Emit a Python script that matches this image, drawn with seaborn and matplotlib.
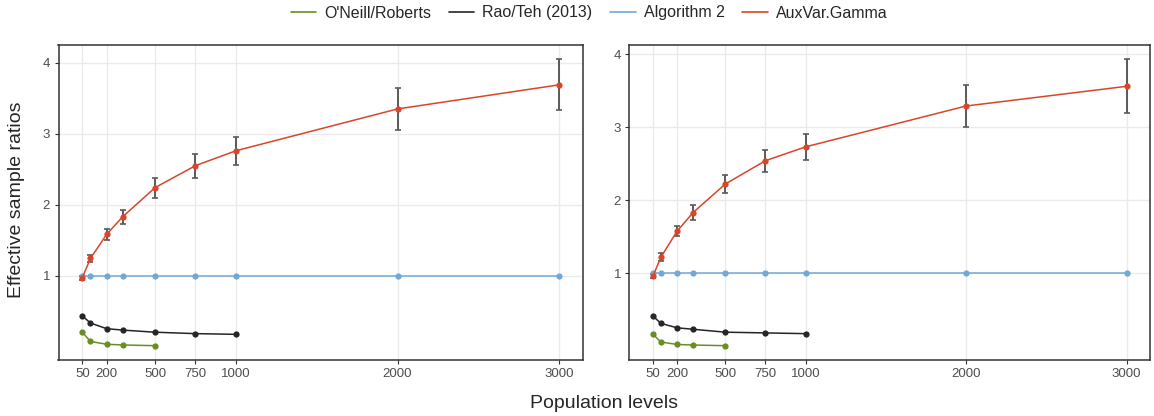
import numpy as np
import pandas as pd
import matplotlib
matplotlib.use('Agg')
import matplotlib.pyplot as plt
import seaborn as sns

# Values.
pop = [50, 100, 200, 300, 500, 750, 1000, 2000, 3000]
pop_oneill = [50, 100, 200, 300, 500]
pop_raoteh = [50, 100, 200, 300, 500, 750, 1000]
xticks = [50, 200, 500, 750, 1000, 2000, 3000]
yticks = [1, 2, 3, 4]

# left panel
oneill_l = [0.20, 0.07, 0.03, 0.02, 0.01]
raoteh_l = [0.43, 0.33, 0.25, 0.23, 0.20, 0.18, 0.17]
alg2_l = [1.0, 1.0, 1.0, 1.0, 1.0, 1.0, 1.0, 1.0, 1.0]
aux_l = [0.97, 1.24, 1.58, 1.83, 2.24, 2.55, 2.76, 3.35, 3.69]
aux_err_l = [0.03, 0.05, 0.08, 0.10, 0.14, 0.17, 0.20, 0.30, 0.36]

# right panel
oneill_r = [0.16, 0.055, 0.022, 0.014, 0.005]
raoteh_r = [0.41, 0.31, 0.25, 0.23, 0.19, 0.18, 0.17]
alg2_r = [1.0, 1.0, 1.0, 1.0, 1.0, 1.0, 1.0, 1.0, 1.0]
aux_r = [0.96, 1.22, 1.575, 1.83, 2.22, 2.54, 2.73, 3.29, 3.56]
aux_err_r = [0.03, 0.05, 0.066, 0.10, 0.12, 0.15, 0.175, 0.29, 0.37]

methods = ["O'Neill/Roberts", 'Rao/Teh (2013)', 'Algorithm 2', 'AuxVar.Gamma']
colors = {"O'Neill/Roberts": '#6b8e23', 'Rao/Teh (2013)': '#262626',
          'Algorithm 2': '#72a8d6', 'AuxVar.Gamma': '#d9452b'}


def make_df(oneill, raoteh, alg2, aux):
    parts = [pd.DataFrame({'n': pop_oneill, 'ratio': oneill, 'method': methods[0]}),
             pd.DataFrame({'n': pop_raoteh, 'ratio': raoteh, 'method': methods[1]}),
             pd.DataFrame({'n': pop, 'ratio': alg2, 'method': methods[2]}),
             pd.DataFrame({'n': pop, 'ratio': aux, 'method': methods[3]})]
    return pd.concat(parts, ignore_index=True)


sns.set_style('white')
plt.rcParams['font.family'] = ['Liberation Sans', 'DejaVu Sans']

fig = plt.figure(figsize=(11.54, 4.16), dpi=100)
W, H = 1154, 416
ax1 = fig.add_axes([58.5 / W, 1 - 360 / H, 524.5 / W, 315 / H])
ax2 = fig.add_axes([629.3 / W, 1 - 360 / H, 521 / W, 315 / H])

panels = [(ax1, oneill_l, raoteh_l, alg2_l, aux_l, aux_err_l),
          (ax2, oneill_r, raoteh_r, alg2_r, aux_r, aux_err_r)]

for ax, on, rt, a2, ax_v, ax_e in panels:
    df = make_df(on, rt, a2, ax_v)
    sns.lineplot(data=df, x='n', y='ratio', hue='method', hue_order=methods,
                 palette=colors, marker='o', markersize=4.5, markeredgewidth=0,
                 linewidth=1.1, legend=False, ax=ax, zorder=3)
    ax.errorbar(pop, ax_v, yerr=ax_e, fmt='none', ecolor='#5a5a5a',
                elinewidth=1.4, capsize=2.3, capthick=1.2, zorder=2.5)
    # ggplot-like 5% expansion
    lo = min(min(on), min(rt), min(a2), min(np.array(ax_v) - np.array(ax_e)))
    hi = max(np.array(ax_v) + np.array(ax_e))
    pad = 0.05 * (hi - lo)
    ax.set_ylim(lo - pad, hi + pad)
    xpad = 0.05 * (pop[-1] - pop[0])
    ax.set_xlim(pop[0] - xpad, pop[-1] + xpad)
    ax.set_xticks(xticks)
    ax.set_xticklabels([str(t) for t in xticks])
    ax.set_yticks(yticks)
    ax.grid(True, color='#ebebeb', linewidth=1.0)
    ax.set_axisbelow(True)
    for s in ax.spines.values():
        s.set_color('#333333')
        s.set_linewidth(1.1)
    ax.tick_params(axis='both', length=3, width=0.8, color='#333333',
                   labelcolor='#4d4d4d', labelsize=9.5, pad=3, left=True, bottom=True)
    ax.set_xlabel('')
    ax.set_ylabel('')

handles = [plt.Line2D([], [], color=colors[m], linewidth=1.2) for m in methods]
fig.legend(handles, methods, loc='center', bbox_to_anchor=(589 / W, 1 - 13 / H), ncol=4,
           frameon=False, fontsize=11.5, handlelength=1.6, handletextpad=0.5,
           columnspacing=1.1)

fig.text(604 / W, 1 - 404 / H, 'Population levels', ha='center', va='center', fontsize=14)
fig.text(17 / W, 1 - 200 / H, 'Effective sample ratios', ha='center', va='center',
         rotation=90, fontsize=14)

fig.savefig('out.png', dpi=100)
